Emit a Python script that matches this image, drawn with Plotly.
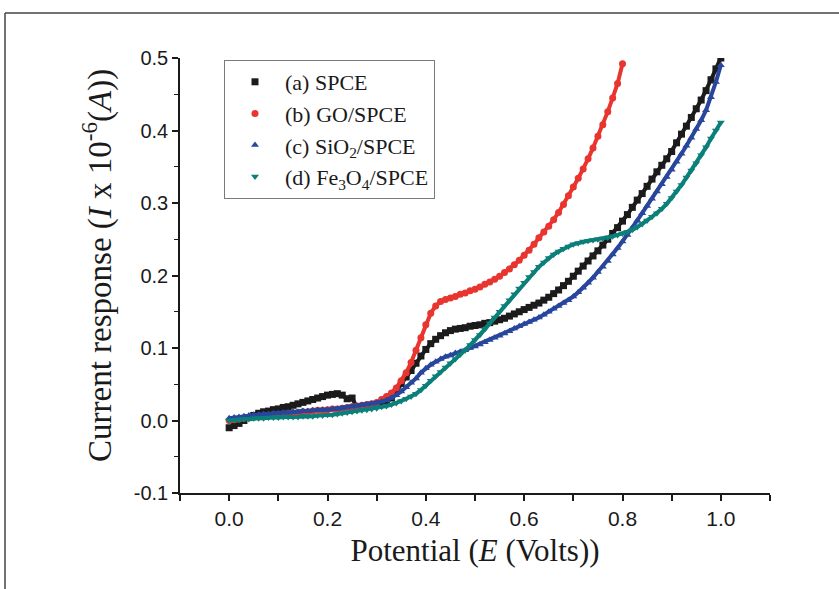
import plotly.graph_objects as go

# ---------------- data ----------------
potential = [0.00, 0.01, 0.02, 0.03, 0.04, 0.05, 0.06, 0.07, 0.08, 0.09,
             0.10, 0.11, 0.12, 0.13, 0.14, 0.15, 0.16, 0.17, 0.18, 0.19,
             0.20, 0.21, 0.22, 0.23, 0.24, 0.25, 0.26, 0.27, 0.28, 0.29,
             0.30, 0.31, 0.32, 0.33, 0.34, 0.35, 0.36, 0.37, 0.38, 0.39,
             0.40, 0.41, 0.42, 0.43, 0.44, 0.45, 0.46, 0.47, 0.48, 0.49,
             0.50, 0.51, 0.52, 0.53, 0.54, 0.55, 0.56, 0.57, 0.58, 0.59,
             0.60, 0.61, 0.62, 0.63, 0.64, 0.65, 0.66, 0.67, 0.68, 0.69,
             0.70, 0.71, 0.72, 0.73, 0.74, 0.75, 0.76, 0.77, 0.78, 0.79,
             0.80, 0.81, 0.82, 0.83, 0.84, 0.85, 0.86, 0.87, 0.88, 0.89,
             0.90, 0.91, 0.92, 0.93, 0.94, 0.95, 0.96, 0.97, 0.98, 0.99,
             1.00]

current_spce = [-0.010, -0.007, -0.004, 0.000, 0.004, 0.007, 0.010, 0.012, 0.013, 0.015,
                0.016, 0.018, 0.019, 0.021, 0.023, 0.025, 0.027, 0.029, 0.031, 0.033,
                0.035, 0.036, 0.037, 0.035, 0.030, 0.031, 0.018, 0.018, 0.019, 0.020,
                0.021, 0.023, 0.026, 0.031, 0.040, 0.051, 0.060, 0.069, 0.079, 0.089,
                0.098, 0.106, 0.112, 0.117, 0.121, 0.124, 0.126, 0.127, 0.128, 0.130,
                0.131, 0.132, 0.134, 0.135, 0.137, 0.139, 0.141, 0.144, 0.147, 0.150,
                0.153, 0.156, 0.159, 0.162, 0.166, 0.170, 0.175, 0.180, 0.186, 0.192,
                0.199, 0.206, 0.213, 0.220, 0.227, 0.234, 0.242, 0.250, 0.258, 0.266,
                0.275, 0.284, 0.294, 0.304, 0.313, 0.323, 0.333, 0.343, 0.352, 0.361,
                0.371, 0.383, 0.395, 0.406, 0.418, 0.430, 0.442, 0.455, 0.470, 0.485,
                0.500]

current_go = [0.000, 0.001, 0.002, 0.003, 0.004, 0.005, 0.006, 0.006, 0.007, 0.008,
              0.008, 0.009, 0.010, 0.010, 0.011, 0.012, 0.012, 0.013, 0.014, 0.014,
              0.015, 0.016, 0.016, 0.017, 0.018, 0.019, 0.020, 0.021, 0.022, 0.023,
              0.025, 0.029, 0.033, 0.038, 0.045, 0.055, 0.066, 0.080, 0.097, 0.114,
              0.132, 0.148, 0.158, 0.164, 0.167, 0.169, 0.171, 0.174, 0.176, 0.179,
              0.181, 0.184, 0.188, 0.191, 0.195, 0.199, 0.204, 0.209, 0.215, 0.221,
              0.228, 0.235, 0.243, 0.252, 0.260, 0.268, 0.277, 0.287, 0.298, 0.310,
              0.322, 0.334, 0.347, 0.361, 0.376, 0.392, 0.408, 0.426, 0.445, 0.465,
              0.492]

current_sio2 = [0.003, 0.004, 0.005, 0.006, 0.007, 0.008, 0.008, 0.009, 0.009, 0.010,
                0.010, 0.011, 0.011, 0.012, 0.012, 0.013, 0.013, 0.014, 0.014, 0.015,
                0.015, 0.016, 0.016, 0.017, 0.018, 0.019, 0.020, 0.021, 0.022, 0.023,
                0.024, 0.026, 0.028, 0.031, 0.035, 0.040, 0.046, 0.052, 0.058, 0.066,
                0.072, 0.077, 0.081, 0.085, 0.088, 0.090, 0.093, 0.095, 0.097, 0.100,
                0.102, 0.105, 0.108, 0.111, 0.114, 0.117, 0.120, 0.123, 0.127, 0.130,
                0.133, 0.136, 0.139, 0.142, 0.146, 0.150, 0.154, 0.158, 0.162, 0.166,
                0.171, 0.177, 0.183, 0.190, 0.197, 0.205, 0.212, 0.220, 0.229, 0.238,
                0.247, 0.256, 0.266, 0.276, 0.286, 0.296, 0.306, 0.316, 0.326, 0.336,
                0.346, 0.357, 0.368, 0.379, 0.390, 0.402, 0.414, 0.428, 0.446, 0.467,
                0.490]

current_fe3o4 = [0.000, 0.001, 0.001, 0.002, 0.002, 0.003, 0.003, 0.003, 0.004, 0.004,
                 0.004, 0.005, 0.005, 0.005, 0.005, 0.006, 0.006, 0.006, 0.007, 0.007,
                 0.008, 0.008, 0.009, 0.010, 0.011, 0.012, 0.013, 0.014, 0.015, 0.016,
                 0.017, 0.019, 0.020, 0.022, 0.024, 0.027, 0.030, 0.033, 0.037, 0.042,
                 0.048, 0.055, 0.061, 0.067, 0.073, 0.079, 0.085, 0.091, 0.097, 0.104,
                 0.111, 0.118, 0.126, 0.134, 0.142, 0.150, 0.158, 0.166, 0.174, 0.182,
                 0.190, 0.198, 0.205, 0.212, 0.218, 0.224, 0.229, 0.233, 0.237, 0.240,
                 0.243, 0.245, 0.247, 0.248, 0.249, 0.250, 0.251, 0.252, 0.254, 0.256,
                 0.258, 0.260, 0.263, 0.267, 0.271, 0.276, 0.281, 0.286, 0.292, 0.299,
                 0.307, 0.316, 0.325, 0.335, 0.345, 0.355, 0.366, 0.377, 0.389, 0.400,
                 0.411]

series_names = ["(a) SPCE", "(b) GO/SPCE", "(c) SiO<sub>2</sub>/SPCE",
                "(d) Fe<sub>3</sub>O<sub>4</sub>/SPCE"]

x_title = "Potential (<i>E</i> (Volts))"
y_title = "Current response (<i>I</i> x 10<sup>-6</sup>(<i>A</i>))"

x_tick_vals = [-0.1, 0.0, 0.1, 0.2, 0.3, 0.4, 0.5, 0.6, 0.7, 0.8, 0.9, 1.0, 1.1]
x_tick_text = ["", "0.0", "", "0.2", "", "0.4", "", "0.6", "", "0.8", "", "1.0", ""]
y_tick_vals = [-0.1, 0.0, 0.1, 0.2, 0.3, 0.4, 0.5]
y_tick_text = ["-0.1", "0.0", "0.1", "0.2", "0.3", "0.4", "0.5"]

# ---------------- styling ----------------
colors = ["#1b1b1b", "#e8352f", "#27469c", "#0b7f79"]
symbols = ["square", "circle", "triangle-up", "triangle-down"]
marker_sizes = [7, 7, 7, 7]
groups = ["a", "b", "c", "d"]

xs = [potential, potential[:len(current_go)], potential, potential]
ys = [current_spce, current_go, current_sio2, current_fe3o4]

fig = go.Figure()
for i in range(4):
    fig.add_trace(go.Scatter(
        x=xs[i], y=ys[i], mode="lines", showlegend=False, hoverinfo="skip",
        legendgroup=groups[i], line=dict(color=colors[i], width=4)))
    fig.add_trace(go.Scatter(
        x=xs[i], y=ys[i], mode="markers", name=series_names[i],
        legendgroup=groups[i],
        marker=dict(color=colors[i], symbol=symbols[i], size=marker_sizes[i],
                    line=dict(width=0))))

W, H = 839, 589
L, R, T, B = 180, 69, 58, 96
pw, ph = W - L - R, H - T - B

def px_to_paper_x(px):
    return (px - L) / pw

def px_to_paper_y(py):
    return (H - B - py) / ph

fig.update_layout(
    width=W, height=H,
    margin=dict(l=L, r=R, t=T, b=B, autoexpand=False),
    paper_bgcolor="white", plot_bgcolor="white",
    showlegend=True,
    legend=dict(
        x=px_to_paper_x(224), y=px_to_paper_y(60), xanchor="left", yanchor="top",
        bordercolor="#7a7a7a", borderwidth=1, bgcolor="white",
        font=dict(family="Liberation Serif", size=22, color="#1a1a1a"),
        itemwidth=50, tracegroupgap=0,
    ),
    xaxis=dict(
        range=[-0.1, 1.1], showgrid=False, zeroline=False,
        showline=True, linecolor="#1a1a1a", linewidth=1.6,
        ticks="outside", ticklen=6, tickwidth=1.6, tickcolor="#1a1a1a",
        tickvals=x_tick_vals, ticktext=x_tick_text,
        tickfont=dict(family="Liberation Sans Narrow, Liberation Sans", size=21, color="#1a1a1a"),
        title=dict(text=x_title,
                   font=dict(family="Liberation Serif", size=31, color="#1a1a1a"),
                   standoff=10),
    ),
    yaxis=dict(
        range=[-0.1, 0.5], showgrid=False, zeroline=False,
        showline=True, linecolor="#1a1a1a", linewidth=1.6,
        ticks="outside", ticklen=6, tickwidth=1.6, tickcolor="#1a1a1a",
        tickvals=y_tick_vals, ticktext=y_tick_text,
        minor=dict(dtick=0.05, ticks="outside", ticklen=4, tickwidth=1.4, tickcolor="#1a1a1a",
                   showgrid=False),
        tickfont=dict(family="Liberation Sans", size=20, color="#1a1a1a"),
    ),
    annotations=[
        dict(text=y_title, xref="paper", yref="paper",
             x=px_to_paper_x(97), y=px_to_paper_y(266),
             xanchor="center", yanchor="middle", textangle=-90, showarrow=False,
             font=dict(family="Liberation Serif", size=33, color="#1a1a1a")),
    ],
    shapes=[
        dict(type="line", xref="paper", yref="paper",
             x0=px_to_paper_x(5), y0=px_to_paper_y(13),
             x1=px_to_paper_x(845), y1=px_to_paper_y(13),
             line=dict(color="#444444", width=1.5)),
        dict(type="line", xref="paper", yref="paper",
             x0=px_to_paper_x(5), y0=px_to_paper_y(13),
             x1=px_to_paper_x(5), y1=px_to_paper_y(595),
             line=dict(color="#444444", width=1.5)),
    ],
)

fig.write_html("out.html", config={"displayModeBar": False},
               post_script="document.body.style.margin='0px';")
